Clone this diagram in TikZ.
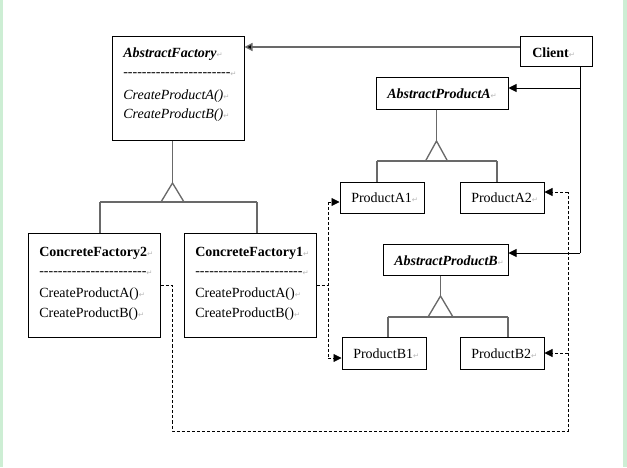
\documentclass[tikz,border=0pt]{standalone}
\usepackage{fontspec}
\setmainfont{Liberation Serif}
\newfontfamily\symfont{DejaVu Sans}
\usetikzlibrary{arrows.meta}
\definecolor{frameg}{RGB}{205,238,212}
\definecolor{lgray}{RGB}{105,105,105}
\newcommand\retm{{\color{gray!55}\symfont\fontsize{5.5}{6}\selectfont ↵}}
\newcommand\dashrow{-{}-{}-{}-{}-{}-{}-{}-{}-{}-{}-{}-{}-{}-{}-{}-{}-{}-{}-{}-{}-{}-{}-{}}
\tikzset{
  box/.style={draw=black, line width=0.75pt, fill=white, inner sep=0pt},
  txt/.style={anchor=base west, inner sep=0pt, font=\fontsize{10.5}{12}\selectfont},
  inh/.style={draw=lgray, line width=1pt},
  arr/.style={-{Triangle[length=6pt,width=6pt]}},
  dsh/.style={line width=0.6pt, dash pattern=on 2.3pt off 1.5pt},
  solid line/.style={line width=0.7pt}
}
\begin{document}
\begin{tikzpicture}[x=0.75pt,y=-0.75pt]
\useasboundingbox (0,0) rectangle (627,467);
\fill[frameg] (0,0) rectangle (2.5,467);
\fill[frameg] (623,0) rectangle (627,467);

% boxes
\node[box, minimum width=132*0.75pt, minimum height=103*0.75pt] (af) at (178,88.5) {};
\node[box, minimum width=132*0.75pt, minimum height=104*0.75pt] (cf2) at (94,285) {};
\node[box, minimum width=132*0.75pt, minimum height=104*0.75pt] (cf1) at (250,285) {};
\node[box, minimum width=72*0.75pt, minimum height=30*0.75pt] (client) at (556,52) {};
\node[box, minimum width=132*0.75pt, minimum height=32*0.75pt] (apa) at (442,93) {};
\node[box, minimum width=84*0.75pt, minimum height=31*0.75pt] (pa1) at (382,197.5) {};
\node[box, minimum width=84*0.75pt, minimum height=31*0.75pt] (pa2) at (502,197.5) {};
\node[box, minimum width=125*0.75pt, minimum height=31*0.75pt] (apb) at (445.5,259.5) {};
\node[box, minimum width=84*0.75pt, minimum height=32*0.75pt] (pb1) at (384,353) {};
\node[box, minimum width=84*0.75pt, minimum height=32*0.75pt] (pb2) at (502,353) {};

% texts
\node[txt] (aft1) at (123,57) {\textbf{\textit{AbstractFactory}}\retm};
\node[txt] (aft2) at (123,76) {\dashrow\retm};
\node[txt] (aft3) at (123,99) {\textit{CreateProductA()}\retm};
\node[txt] (aft4) at (123,118) {\textit{CreateProductB()}\retm};

\node[txt] (cf2t1) at (39,256) {\textbf{ConcreteFactory2}\retm};
\node[txt] (cf2t2) at (39,275) {\dashrow\retm};
\node[txt] (cf2t3) at (39,297) {CreateProductA()\retm};
\node[txt] (cf2t4) at (39,317) {CreateProductB()\retm};

\node[txt] (cf1t1) at (195,256) {\textbf{ConcreteFactory1}\retm};
\node[txt] (cf1t2) at (195,275) {\dashrow\retm};
\node[txt] (cf1t3) at (195,297) {CreateProductA()\retm};
\node[txt] (cf1t4) at (195,317) {CreateProductB()\retm};

\node[txt] (clientt) at (532,58) {\textbf{Client}\retm};
\node[txt] (apat) at (387,98) {\textbf{\textit{AbstractProductA}}\retm};
\node[txt] (pa1t) at (351,202) {ProductA1\retm};
\node[txt] (pa2t) at (471,202) {ProductA2\retm};
\node[txt] (apbt) at (394,265) {\textbf{\textit{AbstractProductB}}\retm};
\node[txt] (pb1t) at (353,358) {ProductB1\retm};
\node[txt] (pb2t) at (471,358) {ProductB2\retm};

% inheritance: AbstractFactory
\coordinate (t1) at (172.5,183);
\coordinate (h1l) at (100,202);
\coordinate (h1r) at (257,202);
\draw[inh] (af.south -| t1) -- (t1);
\draw[inh, line join=miter] (t1) -- ++(-11.5,19) -- ++(23,0) -- cycle;
\draw[inh] (h1l) -- (h1r);
\draw[inh] (h1l) -- (h1l |- cf2.north);
\draw[inh] (h1r) -- (h1r |- cf1.north);

% inheritance: AbstractProductA
\coordinate (t2) at (436.5,141);
\coordinate (h2l) at (377,161);
\coordinate (h2r) at (497,161);
\draw[inh] (apa.south -| t2) -- (t2);
\draw[inh, line join=miter] (t2) -- ++(-11,20) -- ++(22,0) -- cycle;
\draw[inh] (h2l) -- (h2r);
\draw[inh] (h2l) -- (h2l |- pa1.north);
\draw[inh] (h2r) -- (h2r |- pa2.north);

% inheritance: AbstractProductB
\coordinate (t3) at (440.5,296);
\coordinate (h3l) at (388,317);
\coordinate (h3r) at (508,317);
\draw[inh] (apb.south -| t3) -- (t3);
\draw[inh, line join=miter] (t3) -- ++(-12.5,21) -- ++(25,0) -- cycle;
\draw[inh] (h3l) -- (h3r);
\draw[inh] (h3l) -- (h3l |- pb1.north);
\draw[inh] (h3r) -- (h3r |- pb2.north);

% client associations
\coordinate (ca) at (520,47);
\draw[inh, -{Triangle[length=6pt,width=6pt,fill=black]}] (ca) -- (ca -| af.east);
\coordinate (cv) at (580,88);
\coordinate (cvb) at (580,253);
\draw[solid line] (client.south -| cv) -- (cvb);
\draw[solid line, arr] (cv) -- (cv -| apa.east);
\draw[solid line, arr] (cvb) -- (cvb -| apb.east);

% ConcreteFactory1 dependencies
\coordinate (d1) at (328,285);
\coordinate (d1t) at (328,202);
\coordinate (d1b) at (328,358);
\draw[dsh] (cf1.east) -- (d1);
\draw[dsh] (d1t) -- (d1b);
\draw[dsh, arr] (d1t) -- (d1t -| pa1.west);
\draw[dsh, arr] (d1b) -- (d1b -| pb1.west);

% ConcreteFactory2 dependencies
\coordinate (e1) at (172,285);
\coordinate (e2) at (172,431);
\coordinate (e3) at (568,431);
\coordinate (e4) at (568,192);
\draw[dsh] (cf2.east) -- (e1) -- (e2) -- (e3) -- (e4);
\draw[dsh, arr] (e4) -- (e4 -| pa2.east);
\draw[dsh, arr] (e3 |- pb2.east) -- (pb2.east);
\end{tikzpicture}
\end{document}
